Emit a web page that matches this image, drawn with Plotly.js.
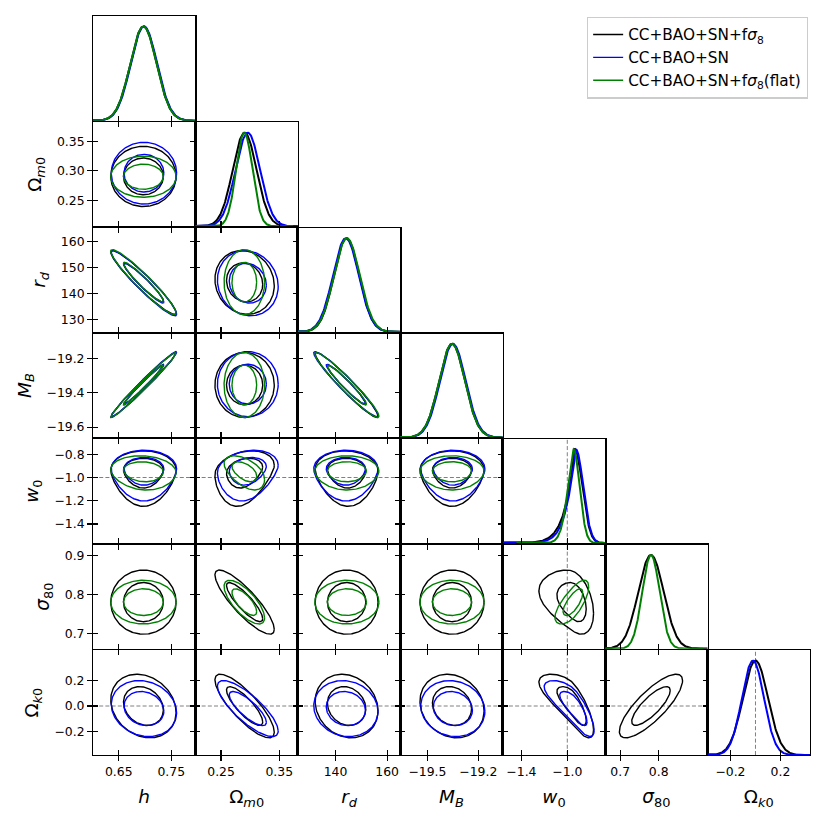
<!DOCTYPE html>
<html>
<head>
<meta charset="utf-8">
<script src="https://cdn.plot.ly/plotly-3.0.1.min.js"></script>
<style>html,body{margin:0;padding:0;background:#ffffff;}#chart{width:827px;height:826px;}</style>
</head>
<body>
<div id="chart"></div>
<script>
// ================= DATA =================
const paramKeys = ['h', 'Om0', 'rd', 'MB', 'w0', 'sigma80', 'Ok0'];
const axisTitles = ['<i>h</i>', 'Ω<sub><i>m</i>0</sub>', '<i>r</i><sub><i>d</i></sub>', '<i>M</i><sub><i>B</i></sub>',
                    '<i>w</i><sub>0</sub>', '<i>σ</i><sub>80</sub>', 'Ω<sub><i>k</i>0</sub>'];
const axisRanges = [[0.601, 0.796], [0.206, 0.382], [125.4, 165.1], [-19.66, -19.056],
                    [-1.563, -0.67], [0.661, 0.927], [-0.383, 0.436]];
const xTickVals = [[0.65, 0.75], [0.25, 0.35], [140, 160], [-19.5, -19.2], [-1.4, -1.0], [0.7, 0.8], [-0.2, 0.2]];
const xTickText = [['0.65', '0.75'], ['0.25', '0.35'], ['140', '160'], ['−19.5', '−19.2'], ['−1.4', '−1.0'], ['0.7', '0.8'], ['−0.2', '0.2']];
const yTickVals = [[], [0.25, 0.30, 0.35], [130, 140, 150, 160], [-19.6, -19.4, -19.2], [-1.4, -1.2, -1.0, -0.8], [0.7, 0.8, 0.9], [-0.2, 0.0, 0.2]];
const yTickText = [[], ['0.25', '0.30', '0.35'], ['130', '140', '150', '160'], ['−19.6', '−19.4', '−19.2'],
                   ['−1.4', '−1.2', '−1.0', '−0.8'], ['0.7', '0.8', '0.9'], ['−0.2', '0.0', '0.2']];
const refValues = [null, null, null, null, -1.0, null, 0.0];

const datasetNames = ['CC+BAO+SN+f<i>σ</i><sub>8</sub>', 'CC+BAO+SN', 'CC+BAO+SN+f<i>σ</i><sub>8</sub>(flat)'];
const datasetColors = ['#000000', '#0000ff', '#008000'];

// posterior summaries per data set (w0: mode); null = parameter not in that data set
const meansK  = [0.697, 0.2905, 144.3, -19.355, -0.935, 0.780, 0.000];
const meansB  = [0.698, 0.2960, 144.0, -19.350, -0.925, null, -0.020];
const meansG  = [0.697, 0.2900, 144.4, -19.355, -0.945, 0.780, null];
const sigmasK = [0.025, 0.0205, 4.9, 0.076, 0.066, 0.033, 0.100];
const sigmasB = [0.025, 0.0210, 5.0, 0.076, 0.064, null, 0.088];
const sigmasG = [0.025, 0.0140, 5.0, 0.076, 0.053, 0.0225, null];
// stretch of the long lower tail of w0
const w0TailK = 0.024, w0TailB = 0.019, w0TailG = 0.005;

const corrPairs = [['h','Om0'],['h','rd'],['h','MB'],['h','w0'],['h','sigma80'],['h','Ok0'],
                   ['Om0','rd'],['Om0','MB'],['Om0','w0'],['Om0','sigma80'],['Om0','Ok0'],
                   ['rd','MB'],['rd','w0'],['rd','sigma80'],['rd','Ok0'],
                   ['MB','w0'],['MB','sigma80'],['MB','Ok0'],
                   ['w0','sigma80'],['w0','Ok0'],['sigma80','Ok0']];
const corrK = [0, -0.95, 0.985, 0, 0, -0.2,  -0.1, 0, 0.25, -0.85, -0.82,  -0.96, -0.05, 0, -0.15,  0, 0, -0.15,  -0.35, -0.75,  0.8];
const corrB = [0, -0.95, 0.985, 0, null, -0.15,  -0.1, 0, 0.2, null, -0.8,  -0.96, 0, null, -0.1,  0, null, -0.1,  null, -0.78,  null];
const corrG = [0, -0.95, 0.985, -0.1, 0, null,  0, 0, -0.5, -0.72, null,  -0.96, 0, 0, null,  0, 0, null,  0.7, null,  null];

// ================= BUILD =================
const NP = paramKeys.length;
const datasets = [
  {name: datasetNames[0], color: datasetColors[0], mean: meansK, sigma: sigmasK, tail: w0TailK, corr: corrK},
  {name: datasetNames[1], color: datasetColors[1], mean: meansB, sigma: sigmasB, tail: w0TailB, corr: corrB},
  {name: datasetNames[2], color: datasetColors[2], mean: meansG, sigma: sigmasG, tail: w0TailG, corr: corrG}
];
const contourLevels = [2.30, 6.18]; // 68% and 95% (2D)

function pairIndex(i, j) {
  return corrPairs.findIndex(p => p[0] === paramKeys[i] && p[1] === paramKeys[j]);
}
function toParam(p, u, ds) {
  const m = ds.mean[p], s = ds.sigma[p];
  if (paramKeys[p] === 'w0') return m + (u >= 0 ? s * u : s * u - ds.tail * u * u);
  return m + s * u;
}
function dParam(p, u, ds) {
  const s = ds.sigma[p];
  if (paramKeys[p] === 'w0') return u >= 0 ? s : s - 2 * ds.tail * u;
  return s;
}
function contourXY(ci, ri, ds, rho) {
  const x = [], y = [];
  const n = 180;
  contourLevels.forEach(lv => {
    const R = Math.sqrt(lv);
    for (let t = 0; t <= n; t++) {
      const th = 2 * Math.PI * t / n;
      const u1 = R * Math.cos(th);
      const u2 = R * (rho * Math.cos(th) + Math.sqrt(1 - rho * rho) * Math.sin(th));
      x.push(toParam(ci, u1, ds));
      y.push(toParam(ri, u2, ds));
    }
    x.push(null); y.push(null);
  });
  return {x, y};
}
function marginalXY(p, ds) {
  const x = [], y = [];
  for (let i = 0; i <= 300; i++) {
    const u = -6 + i * 0.04;
    x.push(toParam(p, u, ds));
    y.push(Math.exp(-0.5 * u * u) / dParam(p, u, ds));
  }
  const mx = Math.max(...y);
  return {x, y: y.map(v => v / mx)};
}

const FONT = 'DejaVu Sans, Liberation Sans, sans-serif';
const tickFont = {family: FONT, size: 12.4, color: '#000000'};
const titleFont = {family: FONT, size: 18.5, color: '#000000'};
const axBase = {showgrid: false, zeroline: false, showline: true, linecolor: '#000000', linewidth: 1.4,
                ticklen: 5, tickwidth: 1.2, tickcolor: '#000000', fixedrange: true, tickfont: tickFont};

const layout = {
  width: 827, height: 826,
  margin: {l: 93, r: 17, t: 16, b: 71, pad: 0},
  paper_bgcolor: '#ffffff', plot_bgcolor: '#ffffff',
  font: {family: FONT, size: 12, color: '#000000'},
  showlegend: true,
  legend: {x: 0.997, xanchor: 'right', y: 0.999, yanchor: 'top', bgcolor: '#ffffff',
           bordercolor: '#cccccc', borderwidth: 1.3, font: {family: FONT, size: 15.3, color: '#000000'},
           itemwidth: 30, tracegroupgap: 0},
  shapes: []
};
const traces = [];
const rowGap = 0.8 / 739;
const sfx = n => (n === 1 ? '' : String(n));
let k = 0;
const panels = [];
for (let r = 0; r < NP; r++) {
  for (let c = 0; c <= r; c++) {
    k++;
    panels.push({r, c, k});
  }
}
let ov = panels.length;
const legendShown = [false, false, false];

panels.forEach(({r, c, k}) => {
  const s = sfx(k);
  const isDiag = r === c;
  const xd = [c / NP, (c + 1) / NP];
  const yd = [1 - (r + 1) / NP + (r < NP - 1 ? rowGap : 0), 1 - r / NP - (r > 0 ? rowGap : 0)];
  layout['xaxis' + s] = Object.assign({}, axBase, {
    domain: xd, anchor: 'y' + s, range: axisRanges[c], autorange: false,
    tickmode: 'array', tickvals: xTickVals[c], ticktext: xTickText[c],
    ticks: 'inside', mirror: isDiag ? true : 'ticks', showticklabels: false
  });
  if (isDiag) {
    layout['yaxis' + s] = Object.assign({}, axBase, {
      domain: yd, anchor: 'x' + s, range: [0, 1.11], autorange: false,
      ticks: '', showticklabels: false, mirror: true
    });
  } else {
    layout['yaxis' + s] = Object.assign({}, axBase, {
      domain: yd, anchor: 'x' + s, range: axisRanges[r], autorange: false,
      tickmode: 'array', tickvals: yTickVals[r], ticktext: yTickText[r],
      ticks: 'inside', mirror: 'ticks', showticklabels: false
    });
  }
  // outer edges: outward ticks, labels and titles on overlay axes
  if (r === NP - 1) {
    ov++;
    const o = sfx(ov);
    layout['xaxis' + o] = Object.assign({}, axBase, {
      overlaying: 'x' + s, anchor: 'y' + s, side: 'bottom', range: axisRanges[c], autorange: false,
      tickmode: 'array', tickvals: xTickVals[c], ticktext: xTickText[c], showline: false,
      ticks: 'outside', showticklabels: true,
      title: {text: axisTitles[c], font: titleFont, standoff: 12}
    });
    traces.push({type: 'scatter', mode: 'lines', x: [], y: [], xaxis: 'x' + o, yaxis: 'y' + s, showlegend: false, hoverinfo: 'skip'});
  }
  if (c === 0 && r > 0) {
    ov++;
    const o = sfx(ov);
    layout['yaxis' + o] = Object.assign({}, axBase, {
      overlaying: 'y' + s, anchor: 'x' + s, side: 'left', range: axisRanges[r], autorange: false,
      tickmode: 'array', tickvals: yTickVals[r], ticktext: yTickText[r], showline: false,
      ticks: 'outside', showticklabels: true,
      title: {text: axisTitles[r], font: titleFont, standoff: 10}
    });
    traces.push({type: 'scatter', mode: 'lines', x: [], y: [], xaxis: 'x' + s, yaxis: 'y' + o, showlegend: false, hoverinfo: 'skip'});
  }
  // reference (fiducial) lines
  if (refValues[c] !== null) {
    layout.shapes.push({type: 'line', xref: 'x' + s, yref: 'y' + s + ' domain', x0: refValues[c], x1: refValues[c], y0: 0, y1: 1,
                        line: {color: '#808080', width: 1, dash: '4px,2.2px'}, layer: 'below'});
  }
  if (!isDiag && refValues[r] !== null) {
    layout.shapes.push({type: 'line', xref: 'x' + s + ' domain', yref: 'y' + s, x0: 0, x1: 1, y0: refValues[r], y1: refValues[r],
                        line: {color: '#808080', width: 1, dash: '4px,2.2px'}, layer: 'below'});
  }
  // data
  datasets.forEach((ds, di) => {
    if (isDiag) {
      if (ds.mean[c] === null) return;
      const m = marginalXY(c, ds);
      traces.push({type: 'scatter', mode: 'lines', x: m.x, y: m.y, xaxis: 'x' + s, yaxis: 'y' + s,
                   line: {color: ds.color, width: 2}, name: ds.name, legendgroup: 'd' + di,
                   showlegend: false, hoverinfo: 'skip'});
    } else {
      const pi = pairIndex(c, r);
      const rho = ds.corr[pi];
      if (ds.mean[c] === null || ds.mean[r] === null || rho === null) return;
      const xy = contourXY(c, r, ds, rho);
      const show = !legendShown[di];
      legendShown[di] = true;
      traces.push({type: 'scatter', mode: 'lines', x: xy.x, y: xy.y, xaxis: 'x' + s, yaxis: 'y' + s,
                   line: {color: ds.color, width: 1.4}, name: ds.name, legendgroup: 'd' + di,
                   showlegend: show, connectgaps: false, hoverinfo: 'skip'});
    }
  });
});

Plotly.newPlot('chart', traces, layout, {staticPlot: true, displayModeBar: false});
</script>
</body>
</html>
